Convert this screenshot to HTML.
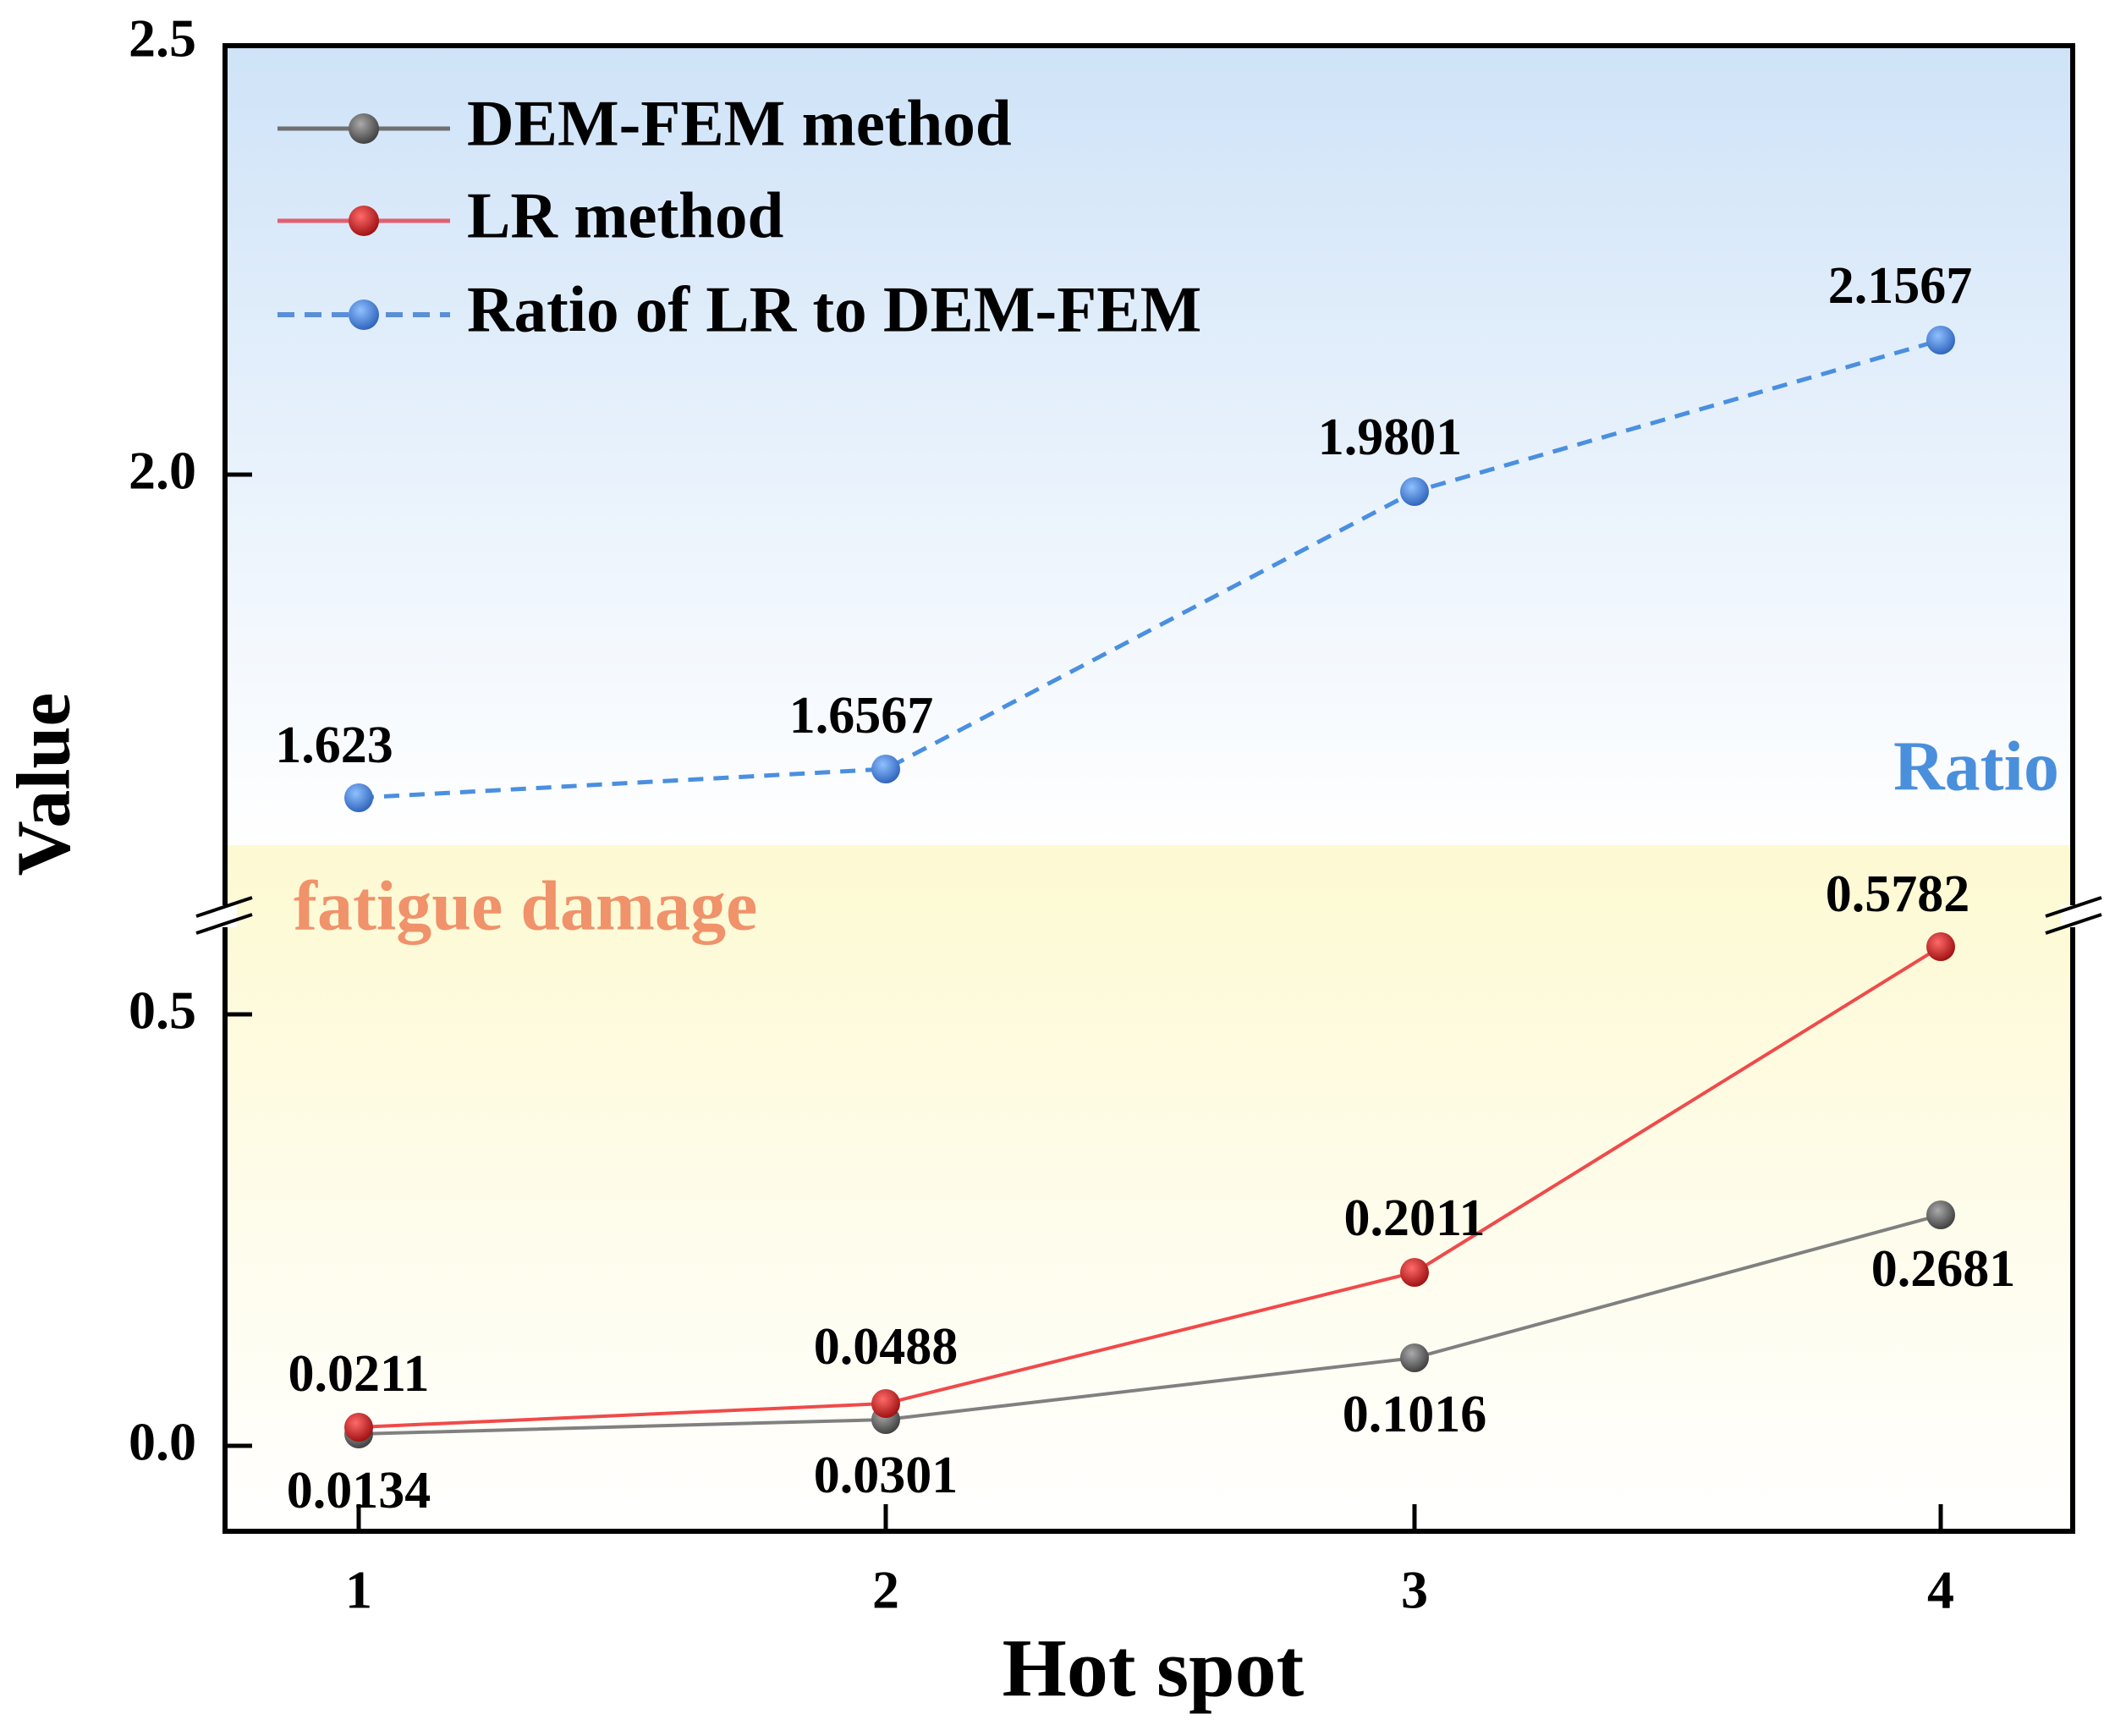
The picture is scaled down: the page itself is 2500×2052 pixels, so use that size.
<!DOCTYPE html>
<html><head><meta charset="utf-8"><style>html,body{margin:0;padding:0;background:#fff}svg{display:block}</style></head>
<body>
<svg width="2500" height="2052" viewBox="0 0 2500 2052" xmlns="http://www.w3.org/2000/svg" font-family="'Liberation Serif', serif" font-weight="bold">
<defs>
<linearGradient id="bl" x1="0" y1="0" x2="0" y2="1"><stop offset="0" stop-color="#cfe3f8"/><stop offset="1" stop-color="#ffffff"/></linearGradient>
<linearGradient id="ye" x1="0" y1="0" x2="0" y2="1"><stop offset="0" stop-color="#fdf9d2"/><stop offset="1" stop-color="#ffffff"/></linearGradient>
<radialGradient id="gk" cx="0.4" cy="0.35" r="0.7"><stop offset="0" stop-color="#aaaaaa"/><stop offset="1" stop-color="#3a3a3a"/></radialGradient>
<radialGradient id="gr" cx="0.4" cy="0.35" r="0.7"><stop offset="0" stop-color="#ff6a6a"/><stop offset="1" stop-color="#9a0c0c"/></radialGradient>
<radialGradient id="gb" cx="0.4" cy="0.35" r="0.7"><stop offset="0" stop-color="#8fc0ff"/><stop offset="1" stop-color="#2a5fb8"/></radialGradient>
</defs>
<rect x="266" y="54" width="2184" height="945" fill="url(#bl)"/>
<rect x="266" y="999" width="2184" height="811" fill="url(#ye)"/>
<rect x="266" y="54" width="2184" height="1756" fill="none" stroke="#000" stroke-width="6"/>
<g stroke="#000" stroke-width="5">
<line x1="266" y1="561" x2="298" y2="561"/>
<line x1="266" y1="1199" x2="298" y2="1199"/>
<line x1="266" y1="1709" x2="298" y2="1709"/>
<line x1="424" y1="1810" x2="424" y2="1778"/>
<line x1="1047" y1="1810" x2="1047" y2="1778"/>
<line x1="1672" y1="1810" x2="1672" y2="1778"/>
<line x1="2294" y1="1810" x2="2294" y2="1778"/>
</g>
<rect x="250" y="1070" width="30" height="26" fill="#fff"/>
<rect x="2436" y="1070" width="30" height="26" fill="#fff"/>
<g stroke="#000" stroke-width="4">
<line x1="232" y1="1083" x2="298" y2="1061"/><line x1="232" y1="1103" x2="298" y2="1081"/>
<line x1="2418" y1="1083" x2="2484" y2="1061"/><line x1="2418" y1="1103" x2="2484" y2="1081"/>
</g>
<g font-size="64" text-anchor="end" dominant-baseline="middle" fill="#000">
<text x="232" y="52">2.5</text>
<text x="232" y="563">2.0</text>
<text x="232" y="1201">0.5</text>
<text x="232" y="1711">0.0</text>
</g>
<g font-size="64" text-anchor="middle" dominant-baseline="middle">
<text x="424" y="1886">1</text><text x="1047" y="1886">2</text><text x="1672" y="1886">3</text><text x="2294" y="1886">4</text>
</g>
<text x="1363" y="1982" font-size="98" text-anchor="middle" dominant-baseline="middle">Hot spot</text>
<text transform="translate(61,927) rotate(-90)" font-size="90" text-anchor="middle" dominant-baseline="middle">Value</text>
<text x="2434" y="914" font-size="84" fill="#4a8fdc" text-anchor="end" dominant-baseline="middle">Ratio</text>
<text x="347" y="1079" font-size="84" fill="#f0926a" dominant-baseline="middle">fatigue damage</text>
<polyline points="424,943 1047,909 1672,581 2294,402" fill="none" stroke="#4a8fe0" stroke-width="5" stroke-dasharray="18,12"/>
<polyline points="424,1695 1047,1678 1672,1605 2294,1436" fill="none" stroke="#808080" stroke-width="4"/>
<polyline points="424,1687 1047,1659 1672,1504 2294,1119" fill="none" stroke="#f04a4a" stroke-width="4"/>
<g>
<circle cx="424" cy="943" r="17" fill="url(#gb)"/><circle cx="1047" cy="909" r="17" fill="url(#gb)"/><circle cx="1672" cy="581" r="17" fill="url(#gb)"/><circle cx="2294" cy="402" r="17" fill="url(#gb)"/>
<circle cx="424" cy="1695" r="17" fill="url(#gk)"/><circle cx="1047" cy="1678" r="17" fill="url(#gk)"/><circle cx="1672" cy="1605" r="17" fill="url(#gk)"/><circle cx="2294" cy="1436" r="17" fill="url(#gk)"/>
<circle cx="424" cy="1687" r="17" fill="url(#gr)"/><circle cx="1047" cy="1659" r="17" fill="url(#gr)"/><circle cx="1672" cy="1504" r="17" fill="url(#gr)"/><circle cx="2294" cy="1119" r="17" fill="url(#gr)"/>
</g>
<g font-size="62" text-anchor="middle" dominant-baseline="middle">
<text x="395" y="887">1.623</text>
<text x="1018" y="852">1.6567</text>
<text x="1643" y="523">1.9801</text>
<text x="2246" y="344">2.1567</text>
<text x="2243" y="1063">0.5782</text>
<text x="2297" y="1506">0.2681</text>
<text x="1672" y="1446">0.2011</text>
<text x="1672" y="1678">0.1016</text>
<text x="1047" y="1598">0.0488</text>
<text x="1047" y="1750">0.0301</text>
<text x="424" y="1630">0.0211</text>
<text x="424" y="1768">0.0134</text>
</g>
<line x1="328" y1="152" x2="532" y2="152" stroke="#707070" stroke-width="5"/>
<circle cx="430" cy="152" r="18" fill="url(#gk)"/>
<line x1="328" y1="261" x2="532" y2="261" stroke="#e06070" stroke-width="5"/>
<circle cx="430" cy="261" r="18" fill="url(#gr)"/>
<line x1="328" y1="372" x2="532" y2="372" stroke="#5a8fd8" stroke-width="6" stroke-dasharray="20,12"/>
<circle cx="430" cy="372" r="18" fill="url(#gb)"/>
<g font-size="77" dominant-baseline="middle">
<text x="552" y="154">DEM-FEM method</text>
<text x="552" y="263">LR method</text>
<text x="552" y="374">Ratio of LR to DEM-FEM</text>
</g>
</svg>
</body></html>
